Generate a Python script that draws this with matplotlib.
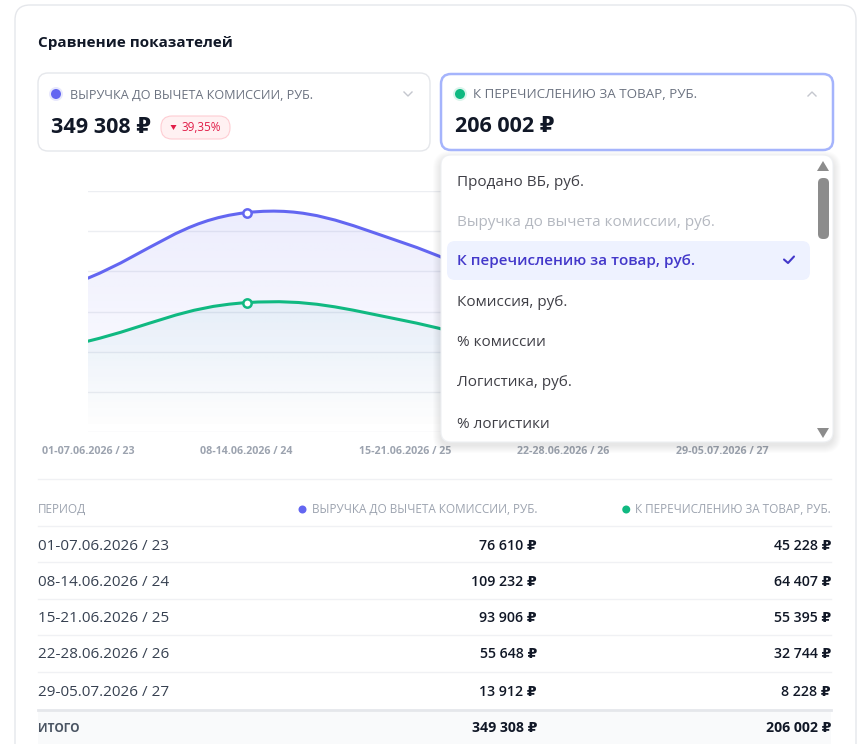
import numpy as np
import matplotlib
matplotlib.use("Agg")
import matplotlib.pyplot as plt
from matplotlib.patches import FancyBboxPatch, Circle, Polygon
from matplotlib.path import Path
from matplotlib.patches import PathPatch

plt.rcParams['font.family'] = ['Open Sans', 'DejaVu Sans']

# data
periods = ['01-07.06.2026 / 23', '08-14.06.2026 / 24', '15-21.06.2026 / 25',
           '22-28.06.2026 / 26', '29-05.07.2026 / 27']
revenue = [76610, 109232, 93906, 55648, 13912]      # Выручка до вычета комиссии
payout = [45228, 64407, 55395, 32744, 8228]          # К перечислению за товар
revenue_total = '349 308 ₽'
payout_total = '206 002 ₽'
change_badge = '39,35%'
menu_items = ['Продано ВБ, руб.', 'Выручка до вычета комиссии, руб.',
              'К перечислению за товар, руб.', 'Комиссия, руб.', '% комиссии',
              'Логистика, руб.', '% логистики']

PURPLE = '#6366f1'
GREEN = '#10b981'
DARK = '#111827'
GRAY = '#6b7280'
BORDER = '#e5e7eb'

W, H = 859, 744
fig = plt.figure(figsize=(W / 100, H / 100), dpi=100)
fig.patch.set_facecolor('white')

bg = fig.add_axes([0, 0, 1, 1], zorder=0)
bg.set_xlim(0, W)
bg.set_ylim(H, 0)
bg.axis('off')


def rbox(ax, x0, y0, x1, y1, r, fc, ec='none', lw=1.0, z=1, alpha=1.0):
    p = FancyBboxPatch((x0, y0), x1 - x0, y1 - y0,
                       boxstyle=f'round,pad=0,rounding_size={r}',
                       fc=fc, ec=ec, lw=lw, zorder=z, alpha=alpha)
    ax.add_patch(p)
    return p


def fmt(v):
    return f'{v:,}'.replace(',', ' ') + ' ₽'


# card
rbox(bg, 15, 5, 856, 780, 15, 'white', BORDER, 1.0)
bg.text(38, 43, 'Сравнение показателей', fontsize=11, fontweight='bold',
        color=DARK, va='center', ha='left')

# selector boxes
rbox(bg, 38, 73, 430, 151, 10, 'white', BORDER, 1.0)
rbox(bg, 441, 74, 833, 150, 10, 'white', '#a5b4fc', 1.8)

for (cx, col) in [(56, PURPLE), (460, GREEN)]:
    bg.add_patch(Circle((cx, 94), 7, fc=col, alpha=0.15, ec='none', zorder=2))
    bg.add_patch(Circle((cx, 94), 5, fc=col, ec='none', zorder=3))

bg.text(70, 98.5, 'ВЫРУЧКА ДО ВЫЧЕТА КОМИССИИ, РУБ.', fontsize=9.05, color=GRAY,
        va='baseline', ha='left')
bg.text(473, 98.5, 'К ПЕРЕЧИСЛЕНИЮ ЗА ТОВАР, РУБ.', fontsize=9.6, color=GRAY,
        va='baseline', ha='left')
bg.plot([404, 408, 412], [92, 96, 92], color='#c4c7ce', lw=1.0)
bg.plot([808, 812, 816], [96, 92, 96], color='#c4c7ce', lw=1.0)

bg.text(51, 133, revenue_total, fontsize=15.5, fontweight='bold', color=DARK,
        va='baseline', ha='left')
bg.text(455, 132, payout_total, fontsize=15.5, fontweight='bold', color=DARK,
        va='baseline', ha='left')

rbox(bg, 161, 116, 230, 139, 11, '#fff1f2', '#fecdd3', 0.8)
bg.add_patch(Polygon([[170.5, 125], [176.5, 125], [173.5, 130]], closed=True,
                     fc='#e11d48', ec='none', zorder=3))
bg.text(181, 131, change_badge, fontsize=8.5, color='#e11d48',
        va='baseline', ha='left')

# chart
x0p, x4p = 88, 722
ybot, ytop = 432, 191
ax = fig.add_axes([x0p / W, (H - ybot) / H, (x4p - x0p) / W, (ybot - ytop) / H],
                  zorder=1)
ax.patch.set_alpha(0)
ax.set_xlim(0, 4)
ax.set_ylim(0, 120000)
ax.set_yticks(np.arange(0, 120001, 20000))
ax.yaxis.grid(True, color='#eceef2', lw=1.0)
ax.tick_params(axis='y', left=False, labelleft=False)
ax.tick_params(axis='x', length=0, pad=10, labelsize=7.7, labelcolor='#9ca3af')
ax.set_xticks(range(len(periods)))
ax.set_xticklabels(periods, fontweight='bold')
for s in ax.spines.values():
    s.set_visible(False)
ax.set_axisbelow(True)

# pixel scale for chart.js-style spline
sx = (x4p - x0p) / 4
sy = (ybot - ytop) / 120000


def spline_path(vals, tension=0.4, close=False):
    n = len(vals)
    xs = np.arange(n, dtype=float)
    ys = np.array(vals, dtype=float)
    px, py = xs * sx, ys * sy
    cps = []
    for i in range(n):
        i0, i2 = max(i - 1, 0), min(i + 1, n - 1)
        d01 = np.hypot(px[i] - px[i0], py[i] - py[i0])
        d12 = np.hypot(px[i2] - px[i], py[i2] - py[i])
        tot = d01 + d12
        s01 = d01 / tot if tot else 0
        s12 = d12 / tot if tot else 0
        fa, fb = tension * s01, tension * s12
        dx, dy = xs[i2] - xs[i0], ys[i2] - ys[i0]
        cps.append(((xs[i] - fa * dx, ys[i] - fa * dy),
                    (xs[i] + fb * dx, ys[i] + fb * dy)))
    verts = [(xs[0], ys[0])]
    codes = [Path.MOVETO]
    for i in range(n - 1):
        verts += [cps[i][1], cps[i + 1][0], (xs[i + 1], ys[i + 1])]
        codes += [Path.CURVE4] * 3
    if close:
        verts += [(xs[-1], 0), (xs[0], 0), (xs[0], ys[0])]
        codes += [Path.LINETO, Path.LINETO, Path.CLOSEPOLY]
    return Path(verts, codes)


def grad_fill(vals, rgb, a_top):
    grad = np.zeros((200, 2, 4))
    grad[..., :3] = rgb
    grad[..., 3] = np.linspace(a_top, 0.0, 200)[:, None]
    im = ax.imshow(grad, extent=[0, 4, 0, 120000], aspect='auto',
                   origin='upper', zorder=2, interpolation='bilinear')
    clip = PathPatch(spline_path(vals, close=True), transform=ax.transData,
                     fc='none', ec='none')
    ax.add_patch(clip)
    im.set_clip_path(clip)


grad_fill(revenue, (0.39, 0.40, 0.945), 0.13)
grad_fill(payout, (0.06, 0.55, 0.65), 0.12)

for vals, col in [(revenue, PURPLE), (payout, GREEN)]:
    ax.add_patch(PathPatch(spline_path(vals), fc='none', ec=col, lw=2.2,
                           zorder=4, capstyle='round'))
    ax.plot([1], [vals[1]], 'o', ms=6, mfc='white', mec=col, mew=1.8, zorder=5)

# dropdown overlay
top = fig.add_axes([0, 0, 1, 1], zorder=3)
top.set_xlim(0, W)
top.set_ylim(H, 0)
top.axis('off')
top.patch.set_alpha(0)
for k in range(8, 0, -1):
    rbox(top, 441 - k, 156 - k + 3, 833 + k, 442 + k + 3, 10 + k, 'black',
         z=1, alpha=0.012)
rbox(top, 441, 155, 833, 442, 10, 'white', '#eef0f3', 0.8, z=2)
rbox(top, 447, 241, 810, 280, 8, '#eef2ff', z=3)
item_y = [180, 220, 260, 300, 341, 381, 422]
for i, (lbl, yy) in enumerate(zip(menu_items, item_y)):
    col = '#3f3f46'
    fw = 'normal'
    if i == 1:
        col = '#b4b8c0'
    if i == 2:
        col = '#4338ca'
        fw = 'semibold'
    top.text(457, yy + 5.5, lbl, fontsize=11, color=col, fontweight=fw,
             va='baseline', ha='left', zorder=4)
top.plot([784, 788, 794], [259.5, 263, 256.5], color='#4338ca', lw=1.5,
         zorder=4, solid_capstyle='round', solid_joinstyle='round')
top.add_patch(Polygon([[817, 171], [829, 171], [823, 161]], closed=True,
                      fc='#8c8c8c', ec='none', zorder=4))
top.add_patch(Polygon([[817, 428], [829, 428], [823, 438]], closed=True,
                      fc='#8c8c8c', ec='none', zorder=4))
rbox(top, 818, 178, 829, 239, 5, '#8c8c8c', z=4)

# table
bg.plot([38, 831], [479, 479], color='#f0f1f4', lw=1.0)
bg.text(38, 513, 'ПЕРИОД', fontsize=8.5, color='#9ca3af', va='baseline', ha='left')
h1 = bg.text(537, 513, 'ВЫРУЧКА ДО ВЫЧЕТА КОМИССИИ, РУБ.', fontsize=8.5,
             color='#9ca3af', va='baseline', ha='right')
h2 = bg.text(831, 513, 'К ПЕРЕЧИСЛЕНИЮ ЗА ТОВАР, РУБ.', fontsize=8.5,
             color='#9ca3af', va='baseline', ha='right')
fig.canvas.draw()
inv = bg.transData.inverted()
for t, col in [(h1, PURPLE), (h2, GREEN)]:
    bb = t.get_window_extent()
    left = inv.transform((bb.x0, bb.y0))[0]
    bg.add_patch(Circle((left - 9, 509.5), 4, fc=col, ec='none'))

row_lines = [526, 562, 599, 635, 672]
row_y = [544, 580, 617, 653, 690]
for ln in row_lines:
    bg.plot([38, 831], [ln, ln], color='#f0f1f4', lw=1.0)
for p, r, g, yy in zip(periods, revenue, payout, row_y):
    bg.text(38, yy + 5.5, p, fontsize=11, color='#374151', va='baseline',
            ha='left')
    bg.text(537, yy + 5.5, fmt(r), fontsize=10.2, color=DARK,
            fontweight='semibold', va='baseline', ha='right')
    bg.text(831, yy + 5.5, fmt(g), fontsize=10.2, color=DARK,
            fontweight='semibold', va='baseline', ha='right')

bg.add_patch(plt.Rectangle((38, 710), 793, 40, fc='#f9fafb', ec='none'))
bg.plot([38, 831], [709.5, 709.5], color='#e5e7eb', lw=2.0)
bg.text(38, 732.5, 'ИТОГО', fontsize=8.5, color='#4b5563', fontweight='bold',
        va='baseline', ha='left')
bg.text(537, 732.5, fmt(sum(revenue)), fontsize=10.2, color=DARK,
        fontweight='bold', va='baseline', ha='right')
bg.text(831, 732.5, fmt(sum(payout)), fontsize=10.2, color=DARK,
        fontweight='bold', va='baseline', ha='right')

fig.savefig('out.png', dpi=100, facecolor='white')
